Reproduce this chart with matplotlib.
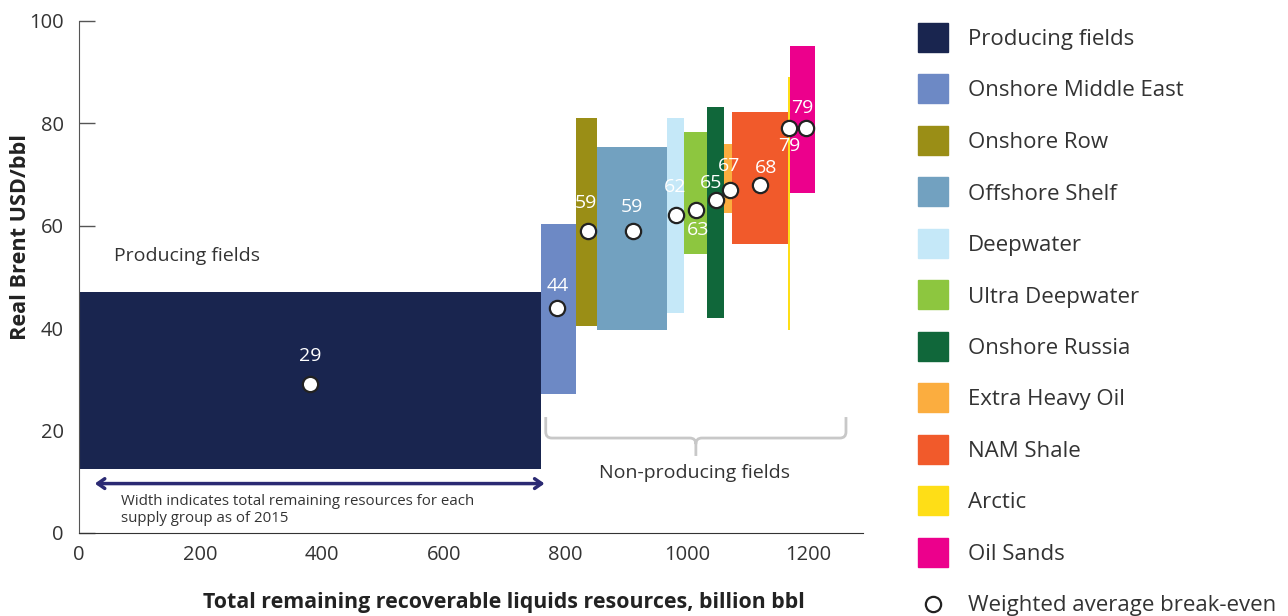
import matplotlib.pyplot as plt
from matplotlib.patches import Rectangle, PathPatch
from matplotlib.path import Path
import numpy as np

plt.rcParams['font.family'] = ['Open Sans', 'DejaVu Sans']

# supply groups, left to right along the cost curve
groups = ['Producing fields', 'Onshore Middle East', 'Onshore Row', 'Offshore Shelf',
          'Deepwater', 'Ultra Deepwater', 'Onshore Russia', 'Extra Heavy Oil',
          'NAM Shale', 'Arctic', 'Oil Sands']
colors = ['#19254f', '#6d89c5', '#9a8e16', '#72a1c0', '#c5e8f8', '#8dc63f',
          '#10673a', '#fbad3f', '#f15a2b', '#fede17', '#ec008c']
widths = [760, 58, 35, 114, 29, 37, 29, 13, 91, 4, 41]          # billion bbl
low = [12.4, 27.1, 40.4, 39.6, 43.0, 54.5, 42.0, 62.5, 56.4, 39.6, 66.3]
high = [47.0, 60.3, 81.0, 75.4, 81.0, 78.3, 83.2, 75.9, 82.2, 89.1, 95.1]
breakeven = [29, 44, 59, 59, 62, 63, 65, 67, 68, 79, 79]
dot_x = [380, 787, 838, 912, 982, 1016, 1048, 1071, 1121, 1169, 1197]
# label offsets in pixels relative to the dot
lab_off = [(0, 28), (0, 22), (-2, 28), (-1, 24), (-1, 28), (2, -20),
           (-5, 17), (-1, 24), (6, 17), (0, -18), (-4, 20)]

starts = np.concatenate([[0], np.cumsum(widths)[:-1]])
low = np.array(low)
high = np.array(high)

fig = plt.figure(figsize=(12.88, 6.16), dpi=100)
ax = fig.add_axes([79/1288, (616-532.7)/616, (863-79)/1288, (532.7-21)/616])

ax.bar(starts, high-low, bottom=low, width=widths, align='edge', color=colors, zorder=2)
ax.plot(dot_x, breakeven, 'o', ms=11, mfc='white', mec='#222222', mew=1.6, zorder=4)
for x, y, v, off in zip(dot_x, breakeven, breakeven, lab_off):
    ax.annotate(str(v), (x, y), xytext=off, textcoords='offset pixels',
                ha='center', va='center', color='white', fontsize=14, zorder=5)

ax.set_xlim(0, 1290)
ax.set_ylim(0, 100)
ax.set_xticks([0, 200, 400, 600, 800, 1000, 1200])
ax.set_yticks([0, 20, 40, 60, 80, 100])
ax.tick_params(axis='y', direction='in', length=11.5, width=1, color='#555555',
               pad=11, labelsize=14.5, labelcolor='#333333')
ax.tick_params(axis='x', length=0, pad=9, labelsize=14.5, labelcolor='#333333')
for s in ['top', 'right']:
    ax.spines[s].set_visible(False)
ax.spines['left'].set_color('#555555')
ax.spines['bottom'].set_color('#333333')

ax.set_xlabel('Total remaining recoverable liquids resources, billion bbl',
              fontsize=15.4, fontweight='bold', color='#222222')
ax.xaxis.set_label_coords(0.542, -0.137)
ax.xaxis.label.set_verticalalignment('center')
ax.set_ylabel('Real Brent USD/bbl', fontsize=15.6, fontweight='bold', color='#222222')
ax.yaxis.set_label_coords(-0.074, 0.578)
ax.yaxis.label.set_verticalalignment('center')

ax.text(57, 54.1, 'Producing fields', fontsize=14, color='#333333', va='center')

# width arrow and note
ax.annotate('', xy=(766, 9.6), xytext=(26, 9.6),
            arrowprops=dict(arrowstyle='<->, head_length=0.5, head_width=0.35',
                            color='#2b2a73', lw=2.5, shrinkA=0, shrinkB=0))
ax.text(69, 4.4, 'Width indicates total remaining resources for each\nsupply group as of 2015',
        fontsize=10.8, color='#333333', va='center', linespacing=1.2)

# brace over non-producing fields
bx0, bxm, bx1 = 768, 1015, 1262
ytop, yh, ytip = 22.6, 18.5, 15.0
verts = [(bx0, ytop), (bx0, yh+1.2), (bx0, yh), (bx0+10, yh), (bxm-10, yh), (bxm, yh), (bxm, yh-1.2), (bxm, ytip),
         (bx1, ytop), (bx1, yh+1.2), (bx1, yh), (bx1-10, yh), (bxm+10, yh), (bxm, yh), (bxm, yh-1.2)]
codes = [Path.MOVETO, Path.LINETO, Path.CURVE3, Path.CURVE3, Path.LINETO, Path.CURVE3, Path.CURVE3, Path.LINETO,
         Path.MOVETO, Path.LINETO, Path.CURVE3, Path.CURVE3, Path.LINETO, Path.CURVE3, Path.CURVE3]
ax.add_patch(PathPatch(Path(verts, codes), fill=False, edgecolor='#c8c8c8', lw=2, clip_on=False))
ax.text(1012, 11.6, 'Non-producing fields', fontsize=14, color='#333333', ha='center', va='center')

# legend drawn in pixel coordinates
leg = fig.add_axes([900/1288, 0, 388/1288, 1])
leg.set_xlim(900, 1288)
leg.set_ylim(616, 0)
leg.axis('off')
row_y = 37 + 51.5*np.arange(len(groups)+1)
for name, c, y in zip(groups, colors, row_y):
    leg.add_patch(Rectangle((918, y-14.5), 30, 29, color=c))
    leg.text(968, y+8, name, fontsize=16, color='#333333', va='baseline')
leg.plot([933], [row_y[-1]], 'o', ms=11, mfc='white', mec='#222222', mew=1.6, clip_on=False)
leg.text(968, row_y[-1]+8, 'Weighted average break-even', fontsize=16, color='#333333',
         va='baseline', clip_on=False)

fig.savefig('out.png', dpi=100)
